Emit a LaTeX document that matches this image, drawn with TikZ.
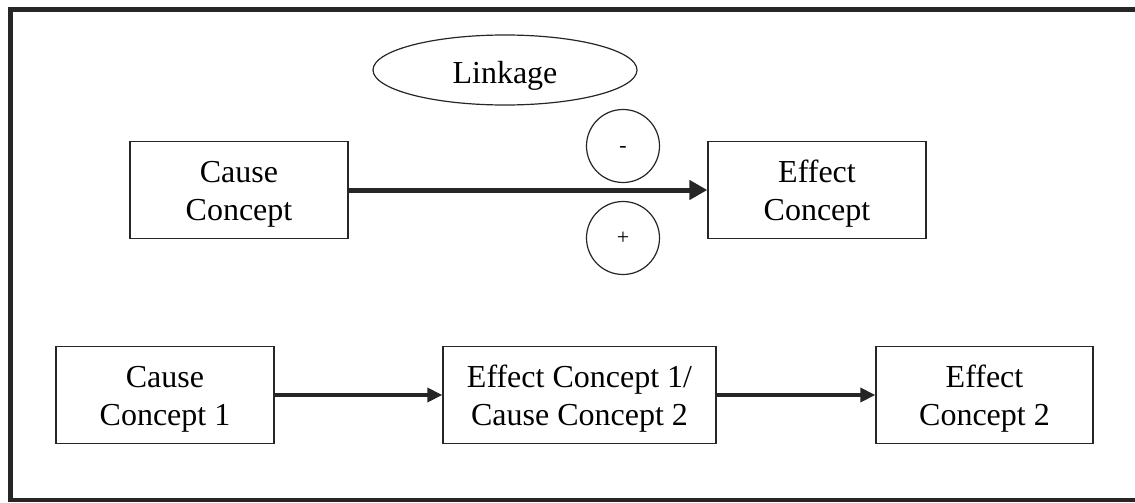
\documentclass[tikz,border=0pt]{standalone}
\usepackage{fontspec}
\setmainfont{Liberation Serif}
\usetikzlibrary{arrows.meta,shapes.geometric}

\begin{document}
\begin{tikzpicture}[x=1pt,y=-1pt,
  ink/.style={draw=black!85},
  concept/.style={ink, line width=1.3pt, rectangle, inner sep=0pt, minimum height=97pt},
  caption/.style={align=center, inner sep=0pt, yshift=-4pt, font=\fontsize{32}{38}\selectfont},
  sign/.style={ink, line width=1.2pt, circle, inner sep=0pt, minimum size=73pt,
    font=\fontsize{22}{24}\selectfont},
  boldlink/.style={ink, line width=5pt, -{Triangle[length=18pt,width=19pt]}},
  link/.style={ink, line width=3.5pt, -{Triangle[length=15pt,width=14pt]}}]
\useasboundingbox (0,0) rectangle (1135,503);

% open frame (no right side)
\draw[black!85, line width=4.5pt] (1140,9.5) -- (10.5,9.5) -- (10.5,500) -- (1140,500);

% upper row: single causal linkage
\node[concept, minimum width=218pt, label={[caption]center:{Cause\\Concept}}] (cause) at (239,190) {};
\node[concept, minimum width=218pt, label={[caption]center:{Effect\\Concept}}] (effect) at (817,190) {};
\node[ink, line width=1.2pt, ellipse, minimum width=264pt, minimum height=70pt,
  inner sep=0pt, text height=27pt, text depth=0pt,
  font=\fontsize{32}{38}\selectfont] (linkage) at (505,70) {Linkage};
\node[sign, text height=13pt, text depth=0pt] (minus) at (623,146) {-};
\node[sign] (plus) at (623,238) {+};
\draw[boldlink] (cause.east) -- (effect.west);

% lower row: chained linkage
\node[concept, minimum width=218pt, label={[caption]center:{Cause\\Concept 1}}] (c1) at (165,395) {};
\node[concept, minimum width=273pt, label={[caption]center:{Effect Concept 1/\\Cause Concept 2}}] (mid) at (579.5,395) {};
\node[concept, minimum width=217pt, label={[caption]center:{Effect\\Concept 2}}] (e2) at (984.5,395) {};
\draw[link] (c1.east) -- (mid.west);
\draw[link] (mid.east) -- (e2.west);
\end{tikzpicture}
\end{document}
